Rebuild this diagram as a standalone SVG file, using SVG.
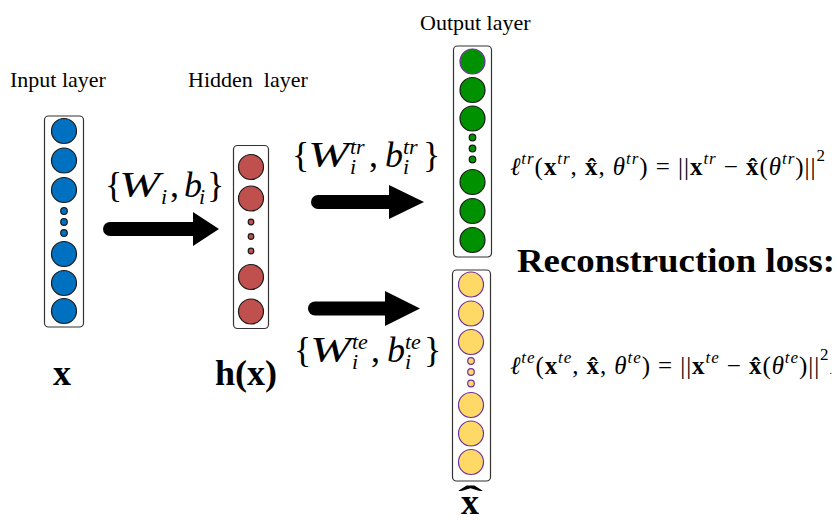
<svg xmlns="http://www.w3.org/2000/svg" width="838" height="521" viewBox="0 0 838 521">
  <style>
    text { font-family: "Liberation Serif", "Times New Roman", serif; fill: #000; }
    .lbl { font-size: 22px; white-space: pre; }
    .big { font-size: 36px; font-weight: bold; }
    .rl { font-size: 33px; font-weight: bold; }
    .br { font-size: 36px; }
    .bi { font-size: 36px; font-style: italic; }
    .bs { font-size: 22px; font-style: italic; }
    .f { font-size: 25px; }
    .fi { font-style: italic; }
    .fb { font-weight: bold; }
    .fs { font-size: 17px; font-style: italic; }
    .fn { font-size: 17px; }
    .box { fill: #fff; stroke: #333; stroke-width: 1.2; }
    .blue { fill: #0070C0; stroke: #1a1a1a; stroke-width: 1.2; }
    .red { fill: #C0504D; stroke: #1a1a1a; stroke-width: 1.2; }
    .green { fill: #009100; stroke: #1a1a1a; stroke-width: 1.2; }
    .yellow { fill: #FFD966; stroke: #7030A0; stroke-width: 1.2; }
    .shaft { stroke: #000; stroke-width: 14; stroke-linecap: round; fill: none; }
  </style>

  <!-- layer captions -->
  <text class="lbl" x="10" y="87">Input layer</text>
  <text class="lbl" x="188" y="87">Hidden  layer</text>
  <text class="lbl" x="420" y="30">Output layer</text>

  <!-- input layer -->
  <g id="input-layer">
    <rect class="box" x="44.5" y="116" width="39" height="211" rx="4"/>
    <circle class="blue" cx="64" cy="131" r="12.5"/>
    <circle class="blue" cx="64" cy="160.5" r="12.5"/>
    <circle class="blue" cx="64" cy="190" r="12.5"/>
    <circle class="blue" cx="64" cy="211" r="3.3"/>
    <circle class="blue" cx="64" cy="222" r="3.3"/>
    <circle class="blue" cx="64" cy="233" r="3.3"/>
    <circle class="blue" cx="64" cy="254" r="12.5"/>
    <circle class="blue" cx="64" cy="283" r="12.5"/>
    <circle class="blue" cx="64" cy="311" r="12.5"/>
    <text class="big" x="53" y="385">x</text>
  </g>

  <!-- hidden layer -->
  <g id="hidden-layer">
    <rect class="box" x="233.5" y="145.5" width="35" height="183" rx="4"/>
    <circle class="red" cx="251" cy="167" r="12.5"/>
    <circle class="red" cx="251" cy="198.5" r="12.5"/>
    <circle class="red" cx="251" cy="222" r="2.8"/>
    <circle class="red" cx="251" cy="236.5" r="2.8"/>
    <circle class="red" cx="251" cy="251" r="2.8"/>
    <circle class="red" cx="251" cy="277" r="12.5"/>
    <circle class="red" cx="251" cy="311.5" r="12.5"/>
    <text class="big" x="215" y="385">h(x)</text>
  </g>

  <!-- output layer, training branch -->
  <g id="output-train">
    <rect class="box" x="453.5" y="46" width="38" height="211" rx="4"/>
    <circle class="green" cx="472.5" cy="61.5" r="12.5" style="stroke:#7030A0"/>
    <circle class="green" cx="472.5" cy="90" r="12.5"/>
    <circle class="green" cx="472.5" cy="118.5" r="12.5"/>
    <circle class="green" cx="472.5" cy="137.5" r="3.3"/>
    <circle class="green" cx="472.5" cy="148.5" r="3.3"/>
    <circle class="green" cx="472.5" cy="159.5" r="3.3"/>
    <circle class="green" cx="472.5" cy="182" r="12.5"/>
    <circle class="green" cx="472.5" cy="211" r="12.5"/>
    <circle class="green" cx="472.5" cy="240" r="12.5"/>
  </g>

  <!-- output layer, test branch -->
  <g id="output-test">
    <rect class="box" x="452.5" y="270" width="38" height="211" rx="4"/>
    <circle class="yellow" cx="471" cy="284.5" r="12.5"/>
    <circle class="yellow" cx="471" cy="313.5" r="12.5"/>
    <circle class="yellow" cx="471" cy="342" r="12.5"/>
    <circle class="yellow" cx="471" cy="361" r="3.3"/>
    <circle class="yellow" cx="471" cy="372" r="3.3"/>
    <circle class="yellow" cx="471" cy="383.5" r="3.3"/>
    <circle class="yellow" cx="471" cy="405" r="12.5"/>
    <circle class="yellow" cx="471" cy="433.5" r="12.5"/>
    <circle class="yellow" cx="471" cy="462" r="12.5"/>
    <text class="big" x="461" y="514">x</text>
    <text class="big" x="458" y="511" textLength="25" lengthAdjust="spacingAndGlyphs">ˆ</text>
  </g>

  <!-- connectors -->
  <g id="connectors">
    <line class="shaft" x1="110" y1="229" x2="196" y2="229"/>
    <polygon points="193,212 219,229 193,246"/>
    <line class="shaft" x1="318" y1="202" x2="392" y2="202"/>
    <polygon points="389,185 424,202 389,219"/>
    <line class="shaft" x1="315" y1="308.5" x2="388" y2="308.5"/>
    <polygon points="385,291 420,308.5 385,326"/>
  </g>

  <!-- encoder parameters {W_i, b_i} -->
  <g id="label-enc">
    <text class="bi" x="119" y="197" textLength="41" lengthAdjust="spacingAndGlyphs">W</text>
    <text class="br"><tspan x="105" y="197">{</tspan><tspan class="bs" x="161" y="204">i</tspan><tspan x="170" y="197">,</tspan><tspan class="bi" x="184" y="197">b</tspan><tspan class="bs" x="199" y="204">i</tspan><tspan x="207" y="197">}</tspan></text>
  </g>

  <!-- decoder parameters, training -->
  <g id="label-tr">
    <text class="bi" x="308" y="167" textLength="41" lengthAdjust="spacingAndGlyphs">W</text>
    <text class="br"><tspan x="292" y="167">{</tspan><tspan class="bs" x="350" y="154">tr</tspan><tspan class="bs" x="350" y="174">i</tspan><tspan x="369" y="167">,</tspan><tspan class="bi" x="385" y="167">b</tspan><tspan class="bs" x="403" y="154">tr</tspan><tspan class="bs" x="403" y="174">i</tspan><tspan x="423" y="167">}</tspan></text>
  </g>

  <!-- decoder parameters, test -->
  <g id="label-te">
    <text class="bi" x="310" y="362" textLength="41" lengthAdjust="spacingAndGlyphs">W</text>
    <text class="br"><tspan x="294" y="362">{</tspan><tspan class="bs" x="352" y="349">te</tspan><tspan class="bs" x="352" y="369">i</tspan><tspan x="371" y="362">,</tspan><tspan class="bi" x="387" y="362">b</tspan><tspan class="bs" x="405" y="349">te</tspan><tspan class="bs" x="405" y="369">i</tspan><tspan x="424" y="362">}</tspan></text>
  </g>

  <!-- training loss -->
  <g id="loss-tr">
    <text class="f" x="510" y="175" textLength="315" lengthAdjust="spacing"><tspan class="fi">ℓ</tspan><tspan class="fs" dy="-11">tr</tspan><tspan dy="11">(</tspan><tspan class="fb">x</tspan><tspan class="fs" dy="-11">tr</tspan><tspan dy="11">, </tspan><tspan class="fb">x̂</tspan><tspan>, </tspan><tspan class="fi">θ</tspan><tspan class="fs" dy="-11">tr</tspan><tspan dy="11">) = ||</tspan><tspan class="fb">x</tspan><tspan class="fs" dy="-11">tr</tspan><tspan dy="11"> − </tspan><tspan class="fb">x̂</tspan><tspan>(</tspan><tspan class="fi">θ</tspan><tspan class="fs" dy="-11">tr</tspan><tspan dy="11">)||</tspan><tspan class="fn" dy="-14">2</tspan></text>
  </g>

  <!-- reconstruction heading -->
  <text class="rl" x="517" y="272" textLength="318" lengthAdjust="spacingAndGlyphs">Reconstruction loss:</text>

  <!-- test loss -->
  <g id="loss-te">
    <text class="f" x="510" y="374" textLength="322" lengthAdjust="spacing"><tspan class="fi">ℓ</tspan><tspan class="fs" dy="-11">te</tspan><tspan dy="11">(</tspan><tspan class="fb">x</tspan><tspan class="fs" dy="-11">te</tspan><tspan dy="11">, </tspan><tspan class="fb">x̂</tspan><tspan>, </tspan><tspan class="fi">θ</tspan><tspan class="fs" dy="-11">te</tspan><tspan dy="11">) = ||</tspan><tspan class="fb">x</tspan><tspan class="fs" dy="-11">te</tspan><tspan dy="11"> − </tspan><tspan class="fb">x̂</tspan><tspan>(</tspan><tspan class="fi">θ</tspan><tspan class="fs" dy="-11">te</tspan><tspan dy="11">)||</tspan><tspan class="fn" dy="-14">2</tspan><tspan dy="14" style="font-size:10px">.</tspan></text>
  </g>
</svg>
